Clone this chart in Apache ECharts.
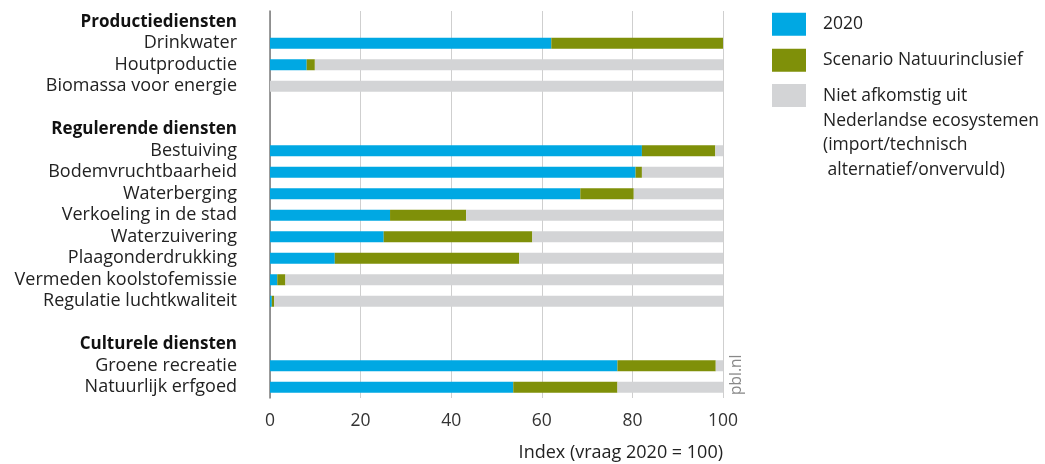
<!DOCTYPE html>
<html>
<head>
<meta charset="utf-8">
<script src="https://cdn.jsdelivr.net/npm/echarts@6/dist/echarts.min.js"></script>
<style>
html,body{margin:0;padding:0;background:#fff;}
#chart{width:1045px;height:464px;}
</style>
</head>
<body>
<div id="chart"></div>
<script>
const categories = ['Productiediensten','Drinkwater','Houtproductie','Biomassa voor energie',' ',
  'Regulerende diensten','Bestuiving','Bodemvruchtbaarheid','Waterberging','Verkoeling in de stad',
  'Waterzuivering','Plaagonderdrukking','Vermeden koolstofemissie','Regulatie luchtkwaliteit','  ',
  'Culturele diensten','Groene recreatie','Natuurlijk erfgoed'];
const headers = ['Productiediensten','Regulerende diensten','Culturele diensten'];
const v2020 =     [null, 62.1, 8.1, 0, null, null, 82.1, 80.7, 68.5, 26.5, 25.1, 14.3, 1.6, 0.4, null, null, 76.7, 53.7];
const vScenario = [null, 37.9, 1.8, 0, null, null, 16.2, 1.4, 11.8, 16.8, 32.8, 40.7, 1.8, 0.5, null, null, 21.7, 23.0];
const vNiet =     [null, 0, 90.1, 100, null, null, 1.7, 17.9, 19.7, 56.7, 42.1, 45.0, 96.6, 99.1, null, null, 1.6, 23.3];
const xTicks = [0, 20, 40, 60, 80, 100];
const seriesNames = ['2020', 'Scenario Natuurinclusief',
  'Niet afkomstig uit\nNederlandse ecosystemen\n(import/technisch\n alternatief/onvervuld)'];
const colors = ['#00a8e3', '#7f9009', '#d3d4d6'];

const FONT = 'Open Sans';
const FS = 18;
const chart = echarts.init(document.getElementById('chart'));
const mk = (name, data, color) => ({
  name, type: 'bar', stack: 'total', data, barWidth: 11,
  itemStyle: { color }, emphasis: { disabled: true }, animation: false
});
const legendBase = {
  orient: 'vertical', left: 772, itemWidth: 34, itemHeight: 23, icon: 'rect',
  selectedMode: false, padding: 0,
  textStyle: { fontFamily: FONT, fontSize: 17.5, color: '#222', padding: [0, 0, 0, 12], lineHeight: 24.5 }
};
chart.setOption({
  animation: false,
  textStyle: { fontFamily: FONT },
  grid: { left: 270, right: 322, top: 11, bottom: 66, containLabel: false },
  legend: [
    Object.assign({}, legendBase, { top: 12, data: [seriesNames[0]] }),
    Object.assign({}, legendBase, { top: 48, data: [seriesNames[1]] }),
    Object.assign({}, legendBase, { top: 84, itemHeight: 98,
      icon: 'path://M0,0L34,0L34,23L0,23Z M0,98L0.001,98L0,98Z',
      data: [seriesNames[2]] })
  ],
  xAxis: {
    type: 'value', min: 0, max: 100, interval: 20,
    axisLine: { show: false }, axisTick: { show: false },
    splitLine: { lineStyle: { color: '#cfcfcf', width: 1 } },
    axisLabel: { fontFamily: FONT, fontSize: 17.5, color: '#333', margin: 14,
      formatter: v => xTicks.includes(v) ? String(v) : '' },
    name: 'Index (vraag 2020 = 100)', nameLocation: 'end', nameGap: 0,
    nameTextStyle: { fontFamily: FONT, fontSize: FS, color: '#222', align: 'right',
      verticalAlign: 'top', padding: [46, 0, 0, 0] }
  },
  yAxis: {
    type: 'category', data: categories, inverse: true,
    axisLine: { show: true, lineStyle: { color: '#7a7a7a', width: 1.5 } },
    axisTick: { show: false },
    axisLabel: {
      interval: 0, margin: 33, fontFamily: FONT, fontSize: FS, color: '#222',
      formatter: v => headers.includes(v) ? '{h|' + v + '}' : v,
      rich: { h: { fontFamily: FONT, fontSize: 17, fontWeight: 'bold', color: '#111' } }
    }
  },
  graphic: [{
    type: 'text', x: 729, y: 395, rotation: Math.PI / 2,
    style: { text: 'pbl.nl', fontFamily: FONT, fontSize: 15.5, fill: '#888', textAlign: 'left', textVerticalAlign: 'top' }
  }],
  series: [
    mk(seriesNames[0], v2020, colors[0]),
    mk(seriesNames[1], vScenario, colors[1]),
    mk(seriesNames[2], vNiet, colors[2])
  ]
});
</script>
</body>
</html>
